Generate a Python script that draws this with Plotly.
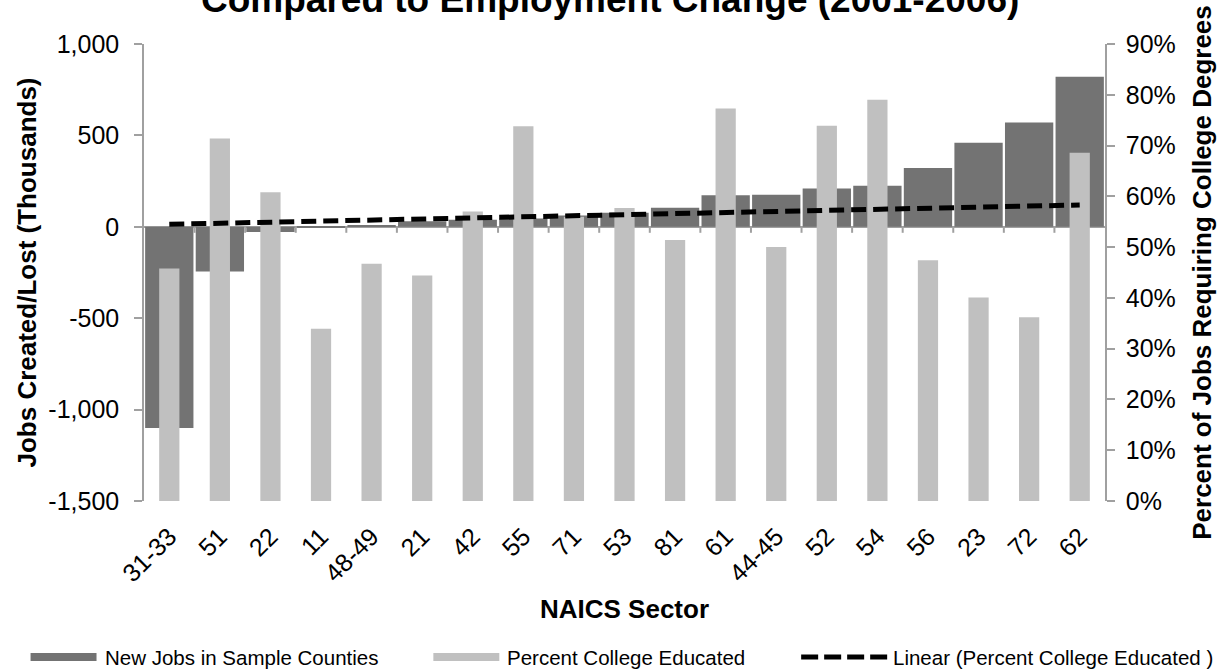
import numpy as np
import plotly.graph_objects as go

# NAICS sectors, ordered by employment change
sectors = ["31-33", "51", "22", "11", "48-49", "21", "42", "55", "71", "53",
           "81", "61", "44-45", "52", "54", "56", "23", "72", "62"]

# New jobs in sample counties, 2001-2006 (thousands)
new_jobs = [-1100, -245, -28, -6, 10, 30, 38, 46, 62, 77,
            104, 172, 175, 210, 225, 321, 460, 570, 821]

# Share of jobs requiring a college degree (%)
pct_college = [45.8, 71.4, 60.8, 33.9, 46.7, 44.4, 57.0, 73.8, 56.0, 57.7,
               51.4, 77.3, 50.0, 73.9, 79.0, 47.4, 40.1, 36.2, 68.6]

left_ticks = [-1500, -1000, -500, 0, 500, 1000]
left_tick_text = ["-1,500", "-1,000", "-500", "0", "500", "1,000"]
right_ticks = [0, 10, 20, 30, 40, 50, 60, 70, 80, 90]
right_tick_text = ["0%", "10%", "20%", "30%", "40%", "50%", "60%", "70%", "80%", "90%"]

DARK = "#737373"
LIGHT = "#c0c0c0"
AXIS = "#a0a0a0"
FONT = "Arial, Liberation Sans, sans-serif"

# Linear trend of the college-educated share across the sector order
idx = np.arange(len(sectors))
slope, intercept = np.polyfit(idx, pct_college, 1)
trend = slope * idx + intercept

W, H = 1231, 672
L, R, T, B = 143.5, 126, 44, 171
pw, ph = W - L - R, H - T - B


def px(x):
    return (x - L) / pw


def py(y):
    return (H - B - y) / ph


fig = go.Figure()

# Employment change on the left axis
fig.add_trace(go.Bar(
    x=sectors, y=new_jobs, name="New Jobs in Sample Counties",
    marker=dict(color=DARK, line=dict(width=0)), width=0.955,
    xaxis="x", yaxis="y", showlegend=False,
))
# College share and its trend on the right axis
fig.add_trace(go.Bar(
    x=sectors, y=pct_college, name="Percent College Educated",
    marker=dict(color=LIGHT, line=dict(width=0)), width=0.40,
    xaxis="x", yaxis="y2", showlegend=False,
))
fig.add_trace(go.Scatter(
    x=sectors, y=trend, name="Linear (Percent College Educated )",
    mode="lines", line=dict(color="black", width=5, dash="15px,7px"),
    xaxis="x", yaxis="y2", showlegend=False,
))

x_range = [-0.5, len(sectors) - 0.5]
# length of the category tick marks below the zero line, in jobs units
tick_depth = (left_ticks[-1] - left_ticks[0]) * 6 / ph

fig.update_layout(
    width=W, height=H,
    margin=dict(l=L, r=R, t=T, b=B),
    paper_bgcolor="white", plot_bgcolor="white",
    barmode="overlay",
    font=dict(family=FONT, color="black", size=25),
    xaxis=dict(
        type="category", categoryorder="array", categoryarray=sectors,
        range=x_range,
        tickangle=-45, tickfont=dict(size=25), ticks="",
        ticklabelstandoff=15,
        showline=False, showgrid=False, zeroline=False,
        title=dict(text="NAICS Sector", font=dict(size=26, weight="bold"),
                   standoff=13),
    ),
    yaxis=dict(
        range=[left_ticks[0], left_ticks[-1]],
        tickvals=left_ticks, ticktext=left_tick_text,
        ticks="outside", ticklen=8, tickwidth=1.5, tickcolor=AXIS,
        ticklabelstandoff=10,
        showline=True, linecolor=AXIS, linewidth=1.5,
        showgrid=False,
        zeroline=True, zerolinecolor=AXIS, zerolinewidth=2,
        title=dict(text="Jobs Created/Lost (Thousands)",
                   font=dict(size=26, weight="bold"), standoff=4),
    ),
    yaxis2=dict(
        overlaying="y", side="right", anchor="x",
        range=[right_ticks[0], right_ticks[-1]],
        tickvals=right_ticks, ticktext=right_tick_text,
        ticks="outside", ticklen=8, tickwidth=1.5, tickcolor=AXIS,
        ticklabelstandoff=6,
        showline=True, linecolor=AXIS, linewidth=1.5,
        showgrid=False, zeroline=False,
        title=dict(text="Percent of Jobs Requiring College Degrees",
                   font=dict(size=26, weight="bold"), standoff=18),
    ),
    showlegend=False,
)

# Category boundary tick marks hanging from the zero line
for i in range(len(sectors) - 1):
    fig.add_shape(type="line", xref="x", yref="y",
                  x0=i + 0.5, x1=i + 0.5, y0=0, y1=-tick_depth,
                  line=dict(color=AXIS, width=2), layer="above")

# Chart title (second line of a two-line heading)
fig.add_annotation(
    text="Compared to Employment Change (2001-2006)",
    xref="paper", yref="paper", x=px(610), y=py(22),
    xanchor="center", yanchor="bottom", showarrow=False,
    font=dict(size=37, weight="bold", family=FONT),
)

# Legend row along the bottom: (label, swatch start, swatch end, text start)
legend_y = 657
legend_items = [
    ("New Jobs in Sample Counties", 30, 96, 102, "bar", DARK),
    ("Percent College Educated", 433, 499, 505, "bar", LIGHT),
    ("Linear (Percent College Educated )", 801, 888, 891, "line", "black"),
]
for label, x0, x1, tx, kind, color in legend_items:
    if kind == "bar":
        fig.add_shape(type="rect", xref="paper", yref="paper",
                      x0=px(x0), x1=px(x1), y0=py(legend_y + 4), y1=py(legend_y - 4),
                      fillcolor=color, line=dict(width=0), layer="above")
    else:
        fig.add_shape(type="line", xref="paper", yref="paper",
                      x0=px(x0), x1=px(x1), y0=py(legend_y), y1=py(legend_y),
                      line=dict(color=color, width=5, dash="17px,6px"), layer="above")
    fig.add_annotation(
        text=label, xref="paper", yref="paper",
        x=px(tx), y=py(legend_y), xanchor="left", yanchor="middle",
        showarrow=False, font=dict(size=20.5, family=FONT),
    )

fig.write_html("out.html")
